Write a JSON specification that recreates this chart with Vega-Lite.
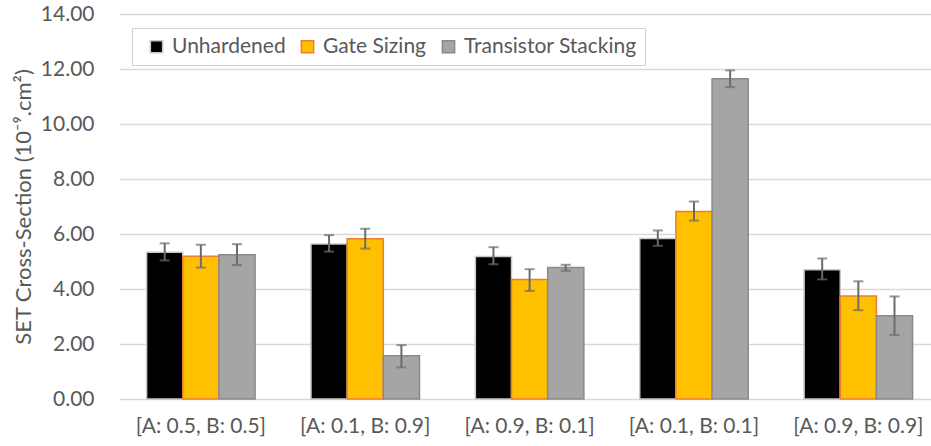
{
  "$schema": "https://vega.github.io/schema/vega-lite/v6.json",
  "autosize": "none",
  "width": 812,
  "height": 385,
  "padding": {"left": 119, "top": 14, "right": 0, "bottom": 47},
  "background": "white",
  "config": {
    "font": "Lato",
    "view": {"stroke": null},
    "axis": {"labelColor": "#595959", "titleColor": "#595959", "labelFont": "Lato", "titleFont": "Lato", "labelFontSize": 21, "titleFontSize": 22, "titleFontWeight": "normal"},
    "legend": {"labelFont": "Lato", "labelFontSize": 21, "labelColor": "#595959", "labelLimit": 0}
  },
  "data": {
    "values": [
      {"grp": "[A: 0.5, B: 0.5]", "series": "Unhardened", "value": 5.34, "lo": 5.04, "hi": 5.66},
      {"grp": "[A: 0.5, B: 0.5]", "series": "Gate Sizing", "value": 5.19, "lo": 4.78, "hi": 5.61},
      {"grp": "[A: 0.5, B: 0.5]", "series": "Transistor Stacking", "value": 5.25, "lo": 4.87, "hi": 5.63},
      {"grp": "[A: 0.1, B: 0.9]", "series": "Unhardened", "value": 5.64, "lo": 5.36, "hi": 5.96},
      {"grp": "[A: 0.1, B: 0.9]", "series": "Gate Sizing", "value": 5.83, "lo": 5.47, "hi": 6.19},
      {"grp": "[A: 0.1, B: 0.9]", "series": "Transistor Stacking", "value": 1.57, "lo": 1.15, "hi": 1.96},
      {"grp": "[A: 0.9, B: 0.1]", "series": "Unhardened", "value": 5.18, "lo": 4.9, "hi": 5.52},
      {"grp": "[A: 0.9, B: 0.1]", "series": "Gate Sizing", "value": 4.35, "lo": 3.93, "hi": 4.72},
      {"grp": "[A: 0.9, B: 0.1]", "series": "Transistor Stacking", "value": 4.78, "lo": 4.66, "hi": 4.88},
      {"grp": "[A: 0.1, B: 0.1]", "series": "Unhardened", "value": 5.84, "lo": 5.57, "hi": 6.13},
      {"grp": "[A: 0.1, B: 0.1]", "series": "Gate Sizing", "value": 6.82, "lo": 6.49, "hi": 7.18},
      {"grp": "[A: 0.1, B: 0.1]", "series": "Transistor Stacking", "value": 11.65, "lo": 11.34, "hi": 11.95},
      {"grp": "[A: 0.9, B: 0.9]", "series": "Unhardened", "value": 4.7, "lo": 4.35, "hi": 5.11},
      {"grp": "[A: 0.9, B: 0.9]", "series": "Gate Sizing", "value": 3.75, "lo": 3.23, "hi": 4.28},
      {"grp": "[A: 0.9, B: 0.9]", "series": "Transistor Stacking", "value": 3.03, "lo": 2.33, "hi": 3.73}
    ]
  },
  "encoding": {
    "x": {
      "field": "grp", "type": "nominal", "sort": null,
      "scale": {"paddingInner": 0.34, "paddingOuter": 0.14, "align": 0.6},
      "axis": {"title": null, "labelAngle": 0, "domain": false, "ticks": false, "labelPadding": 16, "grid": false}
    },
    "xOffset": {
      "field": "series", "type": "nominal",
      "sort": ["Unhardened", "Gate Sizing", "Transistor Stacking"],
      "scale": {"paddingInner": 0, "paddingOuter": 0}
    }
  },
  "layer": [
    {
      "mark": {"type": "bar", "strokeWidth": 1.5},
      "encoding": {
        "y": {
          "field": "value", "type": "quantitative",
          "scale": {"domain": [0, 14]},
          "axis": {
            "title": "SET Cross-Section (10⁻⁹.cm²)",
            "values": [0, 2, 4, 6, 8, 10, 12, 14],
            "format": ".2f",
            "domain": false, "ticks": false,
            "labelPadding": 25,
            "gridColor": "#d9d9d9", "gridWidth": 1.5,
            "titlePadding": 5
          }
        },
        "fill": {
          "field": "series", "type": "nominal",
          "sort": ["Unhardened", "Gate Sizing", "Transistor Stacking"],
          "scale": {"domain": ["Unhardened", "Gate Sizing", "Transistor Stacking"], "range": ["#000000", "#FFC000", "#A5A5A5"]},
          "legend": {
            "title": null, "orient": "none", "direction": "horizontal",
            "legendX": 13, "legendY": 14,
            "fillColor": "white", "strokeColor": "#d0d0d0",
            "padding": 8, "symbolType": "square", "symbolSize": 150,
            "symbolOffset": 6, "labelOffset": 5, "columnPadding": 5,
            "symbolStrokeWidth": 1.5
          }
        },
        "stroke": {
          "field": "series", "type": "nominal",
          "sort": ["Unhardened", "Gate Sizing", "Transistor Stacking"],
          "scale": {"domain": ["Unhardened", "Gate Sizing", "Transistor Stacking"], "range": ["#c8c8c8", "#ED7D31", "#8a8a8a"]},
          "legend": null
        }
      }
    },
    {
      "mark": {"type": "rule", "color": "#6b6b6b", "strokeWidth": 2},
      "encoding": {
        "y": {"field": "lo", "type": "quantitative"},
        "y2": {"field": "hi"}
      }
    },
    {
      "mark": {"type": "tick", "color": "#6b6b6b", "thickness": 2, "size": 10, "orient": "horizontal"},
      "encoding": {
        "y": {"field": "lo", "type": "quantitative"}
      }
    },
    {
      "mark": {"type": "tick", "color": "#6b6b6b", "thickness": 2, "size": 10, "orient": "horizontal"},
      "encoding": {
        "y": {"field": "hi", "type": "quantitative"}
      }
    }
  ]
}
